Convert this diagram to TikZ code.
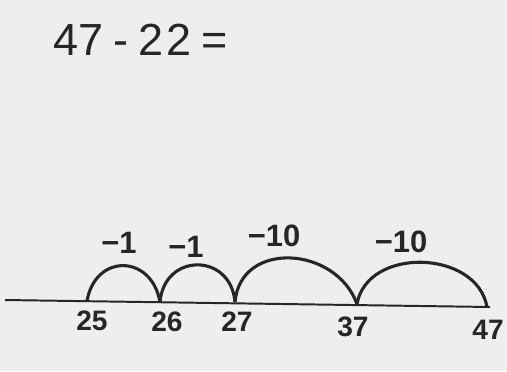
\documentclass[tikz,border=0pt]{standalone}
\usepackage{fontspec}
\setmainfont{Liberation Sans}
\usetikzlibrary{positioning, calc}
\definecolor{cpaper}{HTML}{EEEEEE}
\definecolor{cink}{HTML}{262626}
\tikzset{
  every picture/.style={x=0.025cm, y=-0.025cm, line width=1.6pt},
  numline/.style={draw=cink, line width=1.4pt},
  hop/.style={draw=cink, line width=2.2pt},
  tick/.style={font=\bfseries\fontsize{20}{20}\selectfont, text=cink, inner sep=1pt},
  jump/.style={font=\bfseries\fontsize{22}{22}\selectfont, text=cink, inner sep=1pt},
  title/.style={font=\fontsize{32}{32}\selectfont, text=cink, anchor=west},
}
\begin{document}
\begin{tikzpicture}
  \fill[cpaper] (0,0) rectangle (507,371);
  \useasboundingbox (0,0) rectangle (507,371);
  \node[title] (sum) at (48,40) {47\hspace{7pt}-\hspace{7pt}2\hspace{2pt}2\hspace{7pt}=};
  % number line
  \coordinate (left) at (5,300);
  \coordinate (right) at (490,307);
  \draw[numline] (left) -- (right);
  \foreach \n/\x/\y in {25/87/301, 26/160/302, 27/235/302, 37/357/304, 47/487/307}
    \coordinate (p\n) at (\x,\y);
  % labels under the line
  \node[tick] (l25) at (92,321) {25};
  \node[tick] (l26) at (167,322) {26};
  \node[tick] (l27) at (237,322) {27};
  \node[tick] (l37) at (353,327) {37};
  \node[tick] (l47) at (488,330) {47};
  % jumps back
  \draw[hop] (p47) to[out=100, in=80, looseness=1.15] (p37);
  \draw[hop] (p37) to[out=110, in=85, looseness=1.3] (p27);
  \draw[hop] (p27) to[out=95, in=85, looseness=1.7] (p26);
  \draw[hop] (p26) to[out=100, in=80, looseness=1.7] (p25);
  \node[jump] (j1) at (119,243) {−1};
  \node[jump] (j2) at (186,247) {−1};
  \node[jump] (j3) at (274,236) {−10};
  \node[jump] (j4) at (401,242) {−10};
\end{tikzpicture}
\end{document}
